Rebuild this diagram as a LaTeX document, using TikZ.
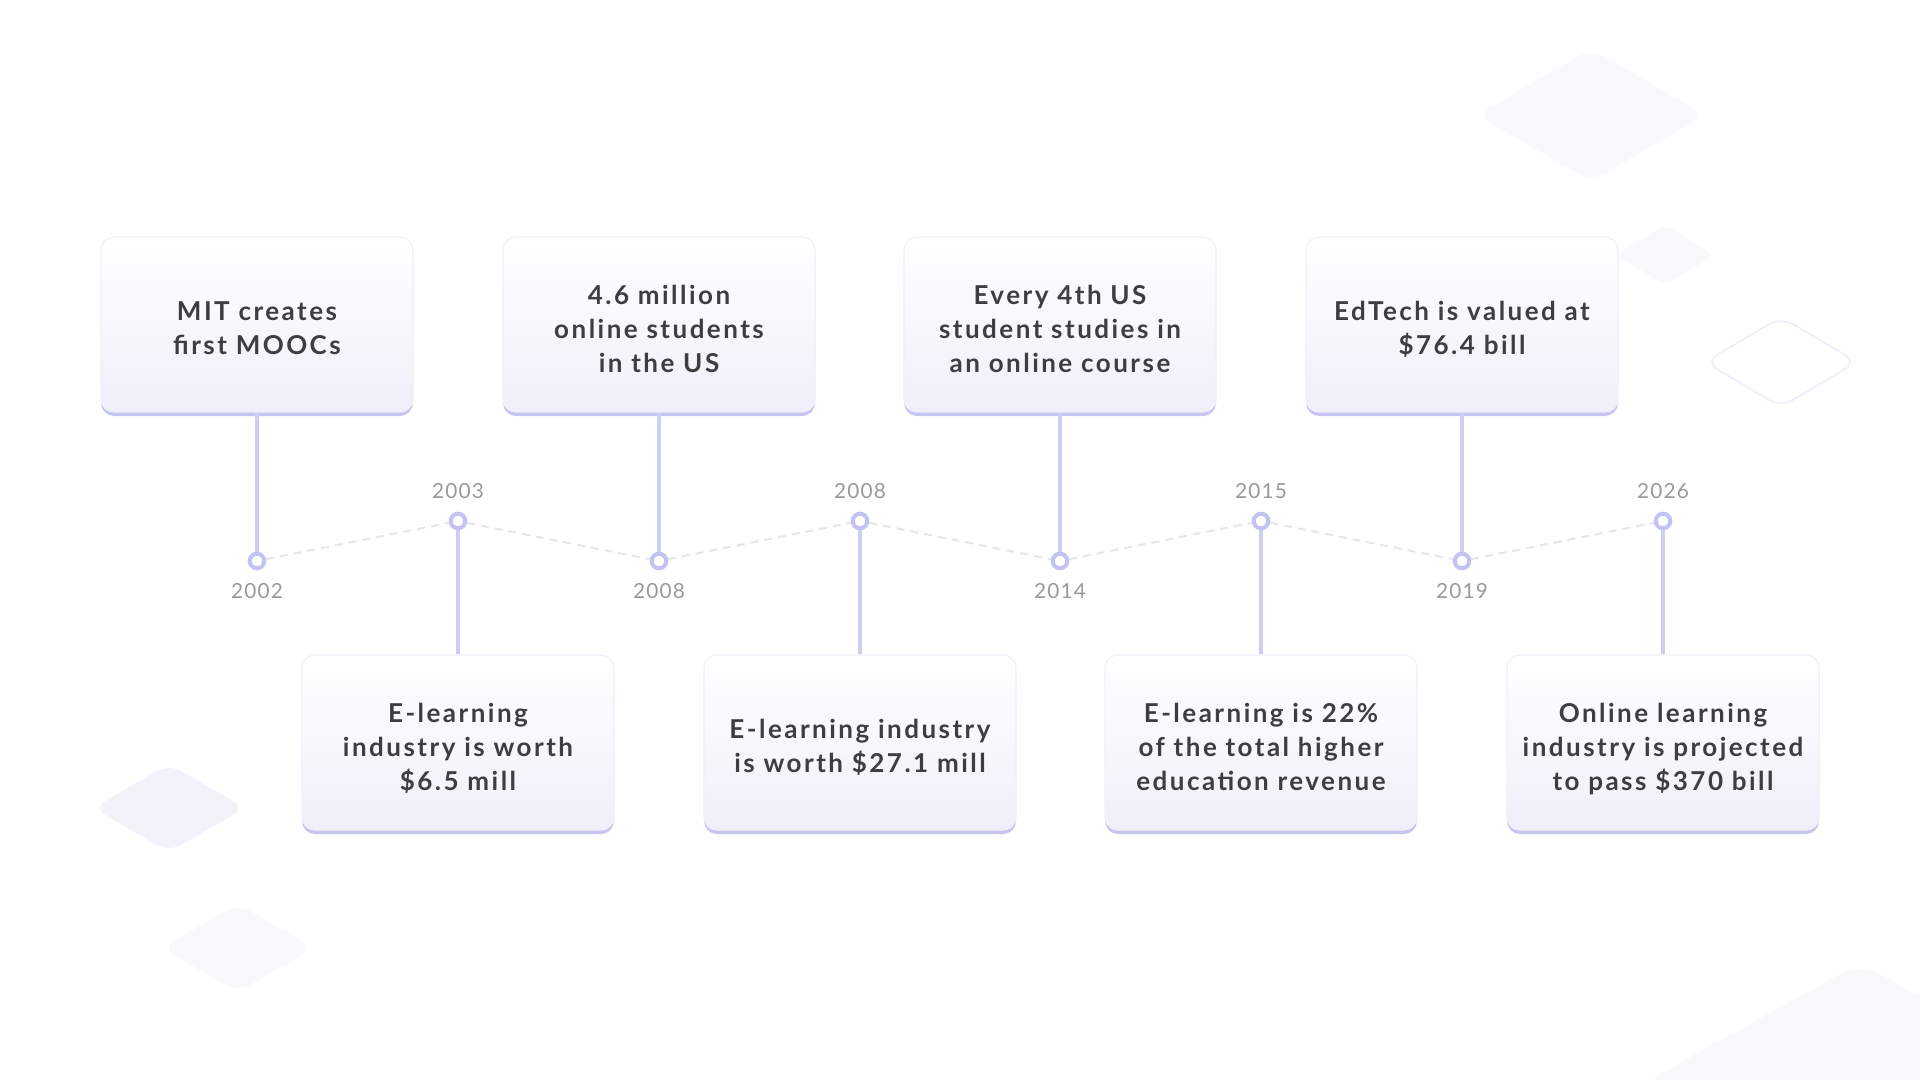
\documentclass[tikz,border=0pt]{standalone}
\usepackage{fontspec}
\setmainfont{Lato}
\newfontfamily\cardfont{Lato}[LetterSpace=9.5]
\newfontfamily\yearfont{Lato}[LetterSpace=6]
\usetikzlibrary{positioning, shadows}

\definecolor{textc}{HTML}{3E3E42}
\definecolor{yearc}{HTML}{9A9A9A}
\definecolor{dotc}{HTML}{C3C3F3}
\definecolor{stemc}{HTML}{CDCDF6}
\definecolor{dashc}{HTML}{E6E6EA}
\definecolor{cardbot}{HTML}{EFEFFB}
\definecolor{cardline}{HTML}{F0F0FA}
\definecolor{shadowc}{HTML}{C5C5F0}
\definecolor{diaA}{HTML}{F8F8FD}
\definecolor{diaB}{HTML}{F9F9FC}
\definecolor{diaC}{HTML}{F2F2FB}
\definecolor{dialine}{HTML}{EDEDFB}

\tikzset{
  card/.style={rounded corners=6.5pt, draw=cardline, line width=0.6pt,
    top color=white, bottom color=cardbot,
    minimum width=156pt, minimum height=87.5pt, align=center,
    font=\cardfont\bfseries\fontsize{13}{17}\selectfont, text=textc,
    text depth=0pt,
    drop shadow={shadow xshift=0pt, shadow yshift=-2pt, fill=shadowc, opacity=1}},
  % text sits a bit below the middle of the card
  lines2/.style={card, text height=30pt},
  lines3/.style={card, text height=47.5pt},
  dot/.style={circle, draw=dotc, line width=2pt, fill=white,
    minimum size=7.3pt, inner sep=0pt},
  year/.style={inner sep=0pt, text=yearc, font=\yearfont\fontsize{10.4}{12}\selectfont},
  stem/.style={draw=stemc, line width=2pt},
  dashline/.style={draw=dashc, line width=1pt, dash pattern=on 4pt off 3pt},
  bgdia/.style={rounded corners=7pt},
}

\begin{document}
\begin{tikzpicture}[x=0.5pt, y=-0.5pt]
  \useasboundingbox (0,0) rectangle (1920,1080);
  \fill[white] (0,0) rectangle (1920,1080);
  % Background diamonds
  \fill[bgdia, diaA] (1477,115) -- ++(114,-66) -- ++(114,66) -- ++(-114,66) -- cycle;
  \fill[bgdia, diaB, rounded corners=4pt] (1616,255) -- ++(49,-30) -- ++(49,30) -- ++(-49,30) -- cycle;
  \draw[bgdia, dialine, line width=0.8pt] (1705,362) -- ++(76,-45) -- ++(76,45) -- ++(-76,45) -- cycle;
  \fill[bgdia, diaC] (93,808) -- ++(76,-44) -- ++(76,44) -- ++(-76,44) -- cycle;
  \fill[bgdia, diaB] (162,948) -- ++(76,-44) -- ++(76,44) -- ++(-76,44) -- cycle;
  \fill[bgdia, diaB, rounded corners=12pt] (1640,1085) -- ++(220,-122) -- ++(220,122) -- ++(-220,122) -- cycle;

  % Timeline points
  \node[dot] (p1) at (257,561) {};
  \node[dot] (p2) at (458,521) {};
  \node[dot] (p3) at (659,561) {};
  \node[dot] (p4) at (860,521) {};
  \node[dot] (p5) at (1060,561) {};
  \node[dot] (p6) at (1261,521) {};
  \node[dot] (p7) at (1462,561) {};
  \node[dot] (p8) at (1663,521) {};
  \draw[dashline] (p1) -- (p2) -- (p3) -- (p4) -- (p5) -- (p6) -- (p7) -- (p8);

  % Years
  \node[year, below=6.5pt of p1] (y1) {2002};
  \node[year, above=6.5pt of p2] (y2) {2003};
  \node[year, below=6.5pt of p3] (y3) {2008};
  \node[year, above=6.5pt of p4] (y4) {2008};
  \node[year, below=6.5pt of p5] (y5) {2014};
  \node[year, above=6.5pt of p6] (y6) {2015};
  \node[year, below=6.5pt of p7] (y7) {2019};
  \node[year, above=6.5pt of p8] (y8) {2026};

  % Cards above
  \node[lines2] (c1) at (257,324.5) {MIT creates\\first MOOCs};
  \node[lines3] (c3) at (659,324.5) {4.6 million\\online students\\in the US};
  \node[lines3] (c5) at (1060,324.5) {Every 4th US\\student studies in\\an online course};
  \node[lines2] (c7) at (1462,324.5) {EdTech is valued at\\\$76.4 bill};
  % Cards below
  \node[lines3] (c2) at (458,742.5) {E-learning\\industry is worth\\\$6.5 mill};
  \node[lines2] (c4) at (860,742.5) {E-learning industry\\is worth \$27.1 mill};
  \node[lines3] (c6) at (1261,742.5) {E-learning is 22\%\\of the total higher\\education revenue};
  \node[lines3] (c8) at (1663,742.5) {Online learning\\industry is projected\\to pass \$370 bill};

  % Stems
  \draw[stem] (c1.south) -- (p1);
  \draw[stem] (p2) -- (c2.north);
  \draw[stem] (c3.south) -- (p3);
  \draw[stem] (p4) -- (c4.north);
  \draw[stem] (c5.south) -- (p5);
  \draw[stem] (p6) -- (c6.north);
  \draw[stem] (c7.south) -- (p7);
  \draw[stem] (p8) -- (c8.north);
\end{tikzpicture}
\end{document}
